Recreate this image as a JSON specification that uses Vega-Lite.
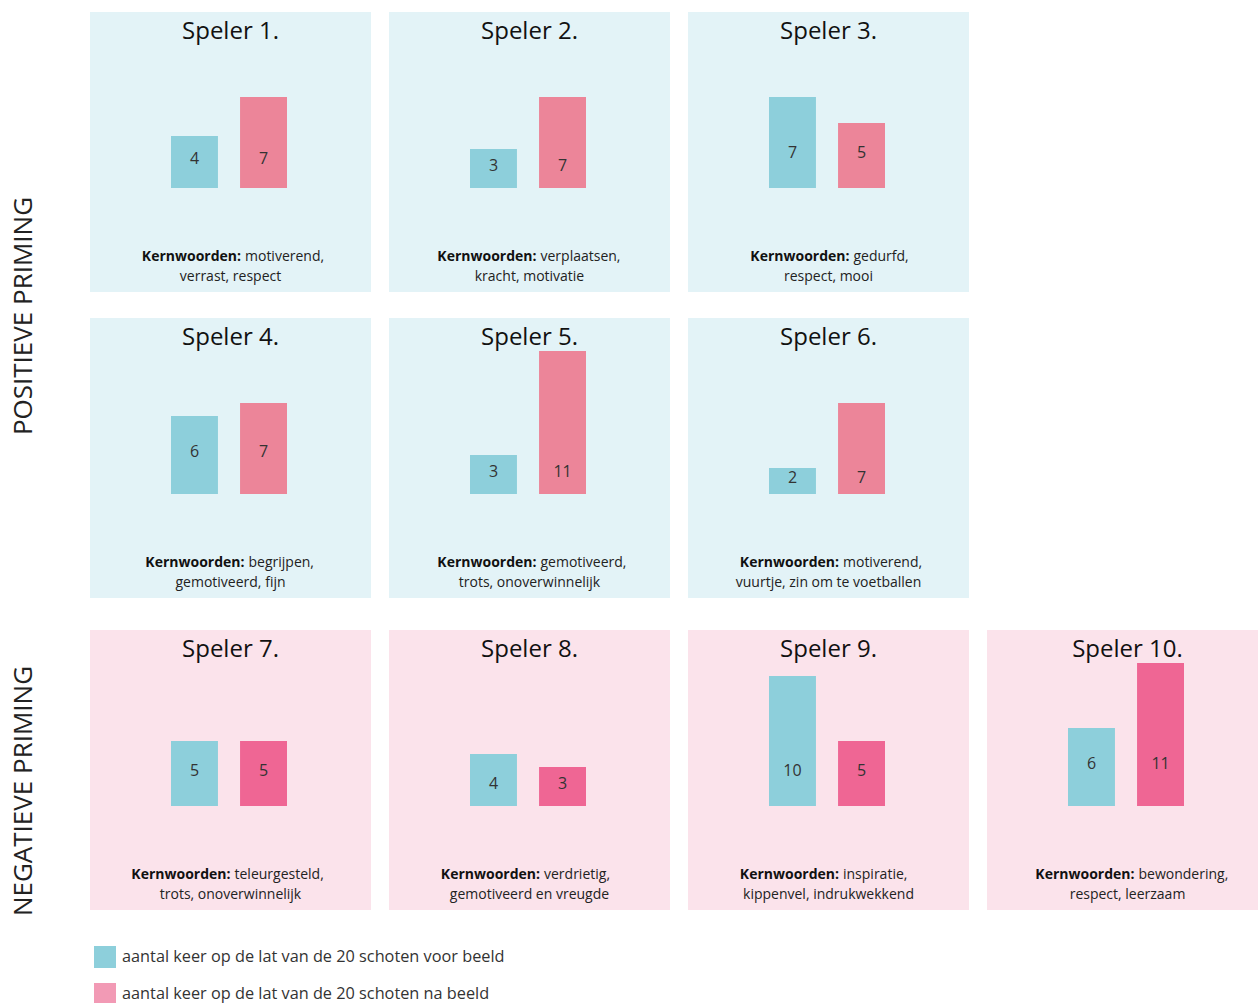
{
  "$schema": "https://vega.github.io/schema/vega-lite/v6.json",
  "padding": {"left": 0, "top": 12, "right": 0, "bottom": 0},
  "background": "white",
  "datasets": {
    "spelers": [
      {"speler": 1, "titel": "Speler 1.", "groep": "positief", "rij": 1, "kol": 1, "moment": "voor", "meting": "aantal keer op de lat van de 20 schoten voor beeld", "waarde": 4, "kern1": "motiverend,", "kern2": "verrast, respect"},
      {"speler": 1, "titel": "Speler 1.", "groep": "positief", "rij": 1, "kol": 1, "moment": "na", "meting": "aantal keer op de lat van de 20 schoten na beeld", "waarde": 7, "kern1": "motiverend,", "kern2": "verrast, respect"},
      {"speler": 2, "titel": "Speler 2.", "groep": "positief", "rij": 1, "kol": 2, "moment": "voor", "meting": "aantal keer op de lat van de 20 schoten voor beeld", "waarde": 3, "kern1": "verplaatsen,", "kern2": "kracht, motivatie"},
      {"speler": 2, "titel": "Speler 2.", "groep": "positief", "rij": 1, "kol": 2, "moment": "na", "meting": "aantal keer op de lat van de 20 schoten na beeld", "waarde": 7, "kern1": "verplaatsen,", "kern2": "kracht, motivatie"},
      {"speler": 3, "titel": "Speler 3.", "groep": "positief", "rij": 1, "kol": 3, "moment": "voor", "meting": "aantal keer op de lat van de 20 schoten voor beeld", "waarde": 7, "kern1": "gedurfd,", "kern2": "respect, mooi"},
      {"speler": 3, "titel": "Speler 3.", "groep": "positief", "rij": 1, "kol": 3, "moment": "na", "meting": "aantal keer op de lat van de 20 schoten na beeld", "waarde": 5, "kern1": "gedurfd,", "kern2": "respect, mooi"},
      {"speler": 4, "titel": "Speler 4.", "groep": "positief", "rij": 2, "kol": 1, "moment": "voor", "meting": "aantal keer op de lat van de 20 schoten voor beeld", "waarde": 6, "kern1": "begrijpen,", "kern2": "gemotiveerd, fijn"},
      {"speler": 4, "titel": "Speler 4.", "groep": "positief", "rij": 2, "kol": 1, "moment": "na", "meting": "aantal keer op de lat van de 20 schoten na beeld", "waarde": 7, "kern1": "begrijpen,", "kern2": "gemotiveerd, fijn"},
      {"speler": 5, "titel": "Speler 5.", "groep": "positief", "rij": 2, "kol": 2, "moment": "voor", "meting": "aantal keer op de lat van de 20 schoten voor beeld", "waarde": 3, "kern1": "gemotiveerd,", "kern2": "trots, onoverwinnelijk"},
      {"speler": 5, "titel": "Speler 5.", "groep": "positief", "rij": 2, "kol": 2, "moment": "na", "meting": "aantal keer op de lat van de 20 schoten na beeld", "waarde": 11, "kern1": "gemotiveerd,", "kern2": "trots, onoverwinnelijk"},
      {"speler": 6, "titel": "Speler 6.", "groep": "positief", "rij": 2, "kol": 3, "moment": "voor", "meting": "aantal keer op de lat van de 20 schoten voor beeld", "waarde": 2, "kern1": "motiverend,", "kern2": "vuurtje, zin om te voetballen"},
      {"speler": 6, "titel": "Speler 6.", "groep": "positief", "rij": 2, "kol": 3, "moment": "na", "meting": "aantal keer op de lat van de 20 schoten na beeld", "waarde": 7, "kern1": "motiverend,", "kern2": "vuurtje, zin om te voetballen"},
      {"speler": 7, "titel": "Speler 7.", "groep": "negatief", "rij": 3, "kol": 1, "moment": "voor", "meting": "aantal keer op de lat van de 20 schoten voor beeld", "waarde": 5, "kern1": "teleurgesteld,", "kern2": "trots, onoverwinnelijk"},
      {"speler": 7, "titel": "Speler 7.", "groep": "negatief", "rij": 3, "kol": 1, "moment": "na", "meting": "aantal keer op de lat van de 20 schoten na beeld", "waarde": 5, "kern1": "teleurgesteld,", "kern2": "trots, onoverwinnelijk"},
      {"speler": 8, "titel": "Speler 8.", "groep": "negatief", "rij": 3, "kol": 2, "moment": "voor", "meting": "aantal keer op de lat van de 20 schoten voor beeld", "waarde": 4, "kern1": "verdrietig,", "kern2": "gemotiveerd en vreugde"},
      {"speler": 8, "titel": "Speler 8.", "groep": "negatief", "rij": 3, "kol": 2, "moment": "na", "meting": "aantal keer op de lat van de 20 schoten na beeld", "waarde": 3, "kern1": "verdrietig,", "kern2": "gemotiveerd en vreugde"},
      {"speler": 9, "titel": "Speler 9.", "groep": "negatief", "rij": 3, "kol": 3, "moment": "voor", "meting": "aantal keer op de lat van de 20 schoten voor beeld", "waarde": 10, "kern1": "inspiratie,", "kern2": "kippenvel, indrukwekkend"},
      {"speler": 9, "titel": "Speler 9.", "groep": "negatief", "rij": 3, "kol": 3, "moment": "na", "meting": "aantal keer op de lat van de 20 schoten na beeld", "waarde": 5, "kern1": "inspiratie,", "kern2": "kippenvel, indrukwekkend"},
      {"speler": 10, "titel": "Speler 10.", "groep": "negatief", "rij": 3, "kol": 4, "moment": "voor", "meting": "aantal keer op de lat van de 20 schoten voor beeld", "waarde": 6, "kern1": "bewondering,", "kern2": "respect, leerzaam"},
      {"speler": 10, "titel": "Speler 10.", "groep": "negatief", "rij": 3, "kol": 4, "moment": "na", "meting": "aantal keer op de lat van de 20 schoten na beeld", "waarde": 11, "kern1": "bewondering,", "kern2": "respect, leerzaam"}
    ],
    "labels": [
      {"groep": "positief", "label": "POSITIEVE PRIMING"},
      {"groep": "negatief", "label": "NEGATIEVE PRIMING"}
    ]
  },
  "spacing": 32,
  "vconcat": [
    {
      "spacing": 50,
      "hconcat": [
        {
          "width": 40, "height": 586,
          "data": {"name": "labels"},
          "transform": [{"filter": "datum.groep == 'positief'"}],
          "mark": {"type": "text", "angle": 270, "fontSize": 26, "color": "#222", "dx": -11, "dy": 4},
          "encoding": {"text": {"field": "label"}}
        },
        {
          "data": {"name": "spelers"},
          "transform": [
            {"filter": "datum.groep == 'positief'"},
            {"joinaggregate": [{"op": "min", "field": "waarde", "as": "minw"}], "groupby": ["speler"]},
            {"calculate": "datum.minw / 2", "as": "labely"},
            {"calculate": "(102 - 4 - 7 * length(datum.kern1)) / 2", "as": "splitx"}
          ],
          "facet": {
            "row": {"field": "rij", "type": "ordinal", "header": null},
            "column": {"field": "kol", "type": "ordinal", "header": null}
          },
          "spacing": {"row": 26, "column": 18},
          "spec": {
            "width": 281, "height": 280,
            "layer": [
              {
                "transform": [{"filter": "datum.moment == 'voor'"}],
                "mark": {"type": "rect", "color": "#e3f3f7"},
                "encoding": {"x": {"value": 0}, "x2": {"value": "width"}, "y": {"value": 0}, "y2": {"value": "height"}}
              },
              {
                "mark": {"type": "bar"},
                "encoding": {
                  "x": {"field": "moment", "type": "nominal", "sort": ["voor", "na"], "scale": {"type": "band", "range": [81, 197], "paddingInner": 0.32, "paddingOuter": 0}, "axis": null},
                  "y": {"field": "waarde", "type": "quantitative", "scale": {"domain": [-8, 13.54], "nice": false, "zero": false}, "axis": null},
                  "y2": {"datum": 0},
                  "color": {
                    "condition": {"test": "datum.moment == 'na'", "value": "#ec8599"},
                    "field": "meting", "type": "nominal",
                    "scale": {"domain": ["aantal keer op de lat van de 20 schoten voor beeld", "aantal keer op de lat van de 20 schoten na beeld"], "range": ["#8dcfdb", "#f29ab5"]},
                    "legend": {"orient": "none", "legendX": 94, "legendY": 934, "title": null, "symbolType": "square", "symbolSize": 484, "symbolStrokeWidth": 0, "symbolOpacity": 1, "labelFontSize": 16.3, "labelColor": "#333", "rowPadding": 15, "labelOffset": 6, "labelLimit": 600}
                  }
                }
              },
              {
                "mark": {"type": "text", "fontSize": 16, "color": "#333", "dy": -3},
                "encoding": {
                  "x": {"field": "moment", "type": "nominal", "sort": ["voor", "na"], "bandPosition": 0.5, "scale": {"type": "band", "range": [81, 197], "paddingInner": 0.32, "paddingOuter": 0}, "axis": null},
                  "y": {"field": "labely", "type": "quantitative"},
                  "text": {"field": "waarde"}
                }
              },
              {
                "transform": [{"filter": "datum.moment == 'voor'"}],
                "mark": {"type": "text", "fontSize": 24, "color": "#111"},
                "encoding": {"y": {"datum": 12.0}, "text": {"field": "titel"}}
              },
              {
                "transform": [{"filter": "datum.moment == 'voor'"}],
                "mark": {"type": "text", "fontSize": 14, "fontWeight": "bold", "align": "right", "color": "#111"},
                "encoding": {
                  "x": {"field": "splitx", "type": "quantitative", "scale": {"domain": [-140.5, 140.5], "nice": false, "zero": false}, "axis": null},
                  "y": {"datum": -5.27},
                  "text": {"value": "Kernwoorden:"}
                }
              },
              {
                "transform": [{"filter": "datum.moment == 'voor'"}],
                "mark": {"type": "text", "fontSize": 14, "align": "left", "dx": 4, "color": "#222"},
                "encoding": {
                  "x": {"field": "splitx", "type": "quantitative", "scale": {"domain": [-140.5, 140.5], "nice": false, "zero": false}, "axis": null},
                  "y": {"datum": -5.27},
                  "text": {"field": "kern1"}
                }
              },
              {
                "transform": [{"filter": "datum.moment == 'voor'"}],
                "mark": {"type": "text", "fontSize": 14, "color": "#222"},
                "encoding": {"y": {"datum": -6.81}, "text": {"field": "kern2"}}
              }
            ],
            "resolve": {"scale": {"x": "independent"}}
          }
        }
      ]
    },
    {
      "spacing": 50,
      "hconcat": [
        {
          "width": 40, "height": 280,
          "data": {"name": "labels"},
          "transform": [{"filter": "datum.groep == 'negatief'"}],
          "mark": {"type": "text", "angle": 270, "fontSize": 26, "color": "#222", "dx": -21, "dy": 4},
          "encoding": {"text": {"field": "label"}}
        },
        {
          "data": {"name": "spelers"},
          "transform": [
            {"filter": "datum.groep == 'negatief'"},
            {"joinaggregate": [{"op": "min", "field": "waarde", "as": "minw"}], "groupby": ["speler"]},
            {"calculate": "datum.minw / 2", "as": "labely"},
            {"calculate": "(102 - 4 - 7 * length(datum.kern1)) / 2", "as": "splitx"}
          ],
          "facet": {
            "column": {"field": "kol", "type": "ordinal", "header": null}
          },
          "spacing": {"column": 18},
          "spec": {
            "width": 281, "height": 280,
            "layer": [
              {
                "transform": [{"filter": "datum.moment == 'voor'"}],
                "mark": {"type": "rect", "color": "#fbe3eb"},
                "encoding": {"x": {"value": 0}, "x2": {"value": "width"}, "y": {"value": 0}, "y2": {"value": "height"}}
              },
              {
                "mark": {"type": "bar"},
                "encoding": {
                  "x": {"field": "moment", "type": "nominal", "sort": ["voor", "na"], "scale": {"type": "band", "range": [81, 197], "paddingInner": 0.32, "paddingOuter": 0}, "axis": null},
                  "y": {"field": "waarde", "type": "quantitative", "scale": {"domain": [-8, 13.54], "nice": false, "zero": false}, "axis": null},
                  "y2": {"datum": 0},
                  "color": {
                    "condition": {"test": "datum.moment == 'na'", "value": "#ef6694"},
                    "field": "meting", "type": "nominal",
                    "scale": {"domain": ["aantal keer op de lat van de 20 schoten voor beeld", "aantal keer op de lat van de 20 schoten na beeld"], "range": ["#8dcfdb", "#f29ab5"]},
                    "legend": {"orient": "none", "legendX": 94, "legendY": 934, "title": null, "symbolType": "square", "symbolSize": 484, "symbolStrokeWidth": 0, "symbolOpacity": 1, "labelFontSize": 16.3, "labelColor": "#333", "rowPadding": 15, "labelOffset": 6, "labelLimit": 600}
                  }
                }
              },
              {
                "mark": {"type": "text", "fontSize": 16, "color": "#333", "dy": -3},
                "encoding": {
                  "x": {"field": "moment", "type": "nominal", "sort": ["voor", "na"], "bandPosition": 0.5, "scale": {"type": "band", "range": [81, 197], "paddingInner": 0.32, "paddingOuter": 0}, "axis": null},
                  "y": {"field": "labely", "type": "quantitative"},
                  "text": {"field": "waarde"}
                }
              },
              {
                "transform": [{"filter": "datum.moment == 'voor'"}],
                "mark": {"type": "text", "fontSize": 24, "color": "#111"},
                "encoding": {"y": {"datum": 12.0}, "text": {"field": "titel"}}
              },
              {
                "transform": [{"filter": "datum.moment == 'voor'"}],
                "mark": {"type": "text", "fontSize": 14, "fontWeight": "bold", "align": "right", "color": "#111"},
                "encoding": {
                  "x": {"field": "splitx", "type": "quantitative", "scale": {"domain": [-140.5, 140.5], "nice": false, "zero": false}, "axis": null},
                  "y": {"datum": -5.27},
                  "text": {"value": "Kernwoorden:"}
                }
              },
              {
                "transform": [{"filter": "datum.moment == 'voor'"}],
                "mark": {"type": "text", "fontSize": 14, "align": "left", "dx": 4, "color": "#222"},
                "encoding": {
                  "x": {"field": "splitx", "type": "quantitative", "scale": {"domain": [-140.5, 140.5], "nice": false, "zero": false}, "axis": null},
                  "y": {"datum": -5.27},
                  "text": {"field": "kern1"}
                }
              },
              {
                "transform": [{"filter": "datum.moment == 'voor'"}],
                "mark": {"type": "text", "fontSize": 14, "color": "#222"},
                "encoding": {"y": {"datum": -6.81}, "text": {"field": "kern2"}}
              }
            ],
            "resolve": {"scale": {"x": "independent"}}
          }
        }
      ]
    }
  ],
  "config": {
    "view": {"stroke": null},
    "font": "Open Sans",
    "text": {"font": "Open Sans"}
  }
}
